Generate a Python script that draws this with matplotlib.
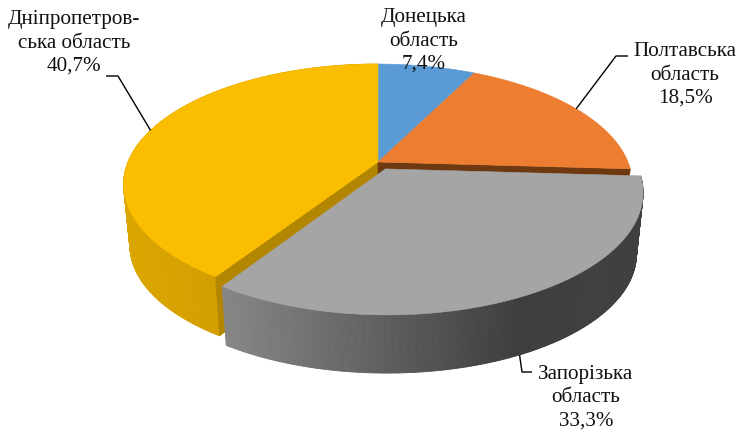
import numpy as np
import matplotlib
matplotlib.use("Agg")
import matplotlib.pyplot as plt
from matplotlib.collections import PolyCollection

names = ["Донецька\nобласть", "Полтавська\nобласть", "Запорізька\nобласть", "Дніпропетров-\nська область"]
values = [7.4, 18.5, 33.3, 40.7]
value_labels = ["7,4%", "18,5%", "33,3%", "40,7%"]
top_colors = ["#5b9bd5", "#ed7d31", "#a5a5a5", "#fbbd00"]
inner_colors = [None, "#6e3910", "#555555", "#b28600"]
explode = [0.0, 0.0, 0.066, 0.0]

# projection of the pie plane to pixels (perspective view)
CX, CY, BX, AY, K = 378.0, 163.0, 250.0, 116.1, 0.185
SHRINK, DROP = 0.975, 62.0

plt.rcParams["font.family"] = ["Liberation Serif", "DejaVu Serif"]
fig = plt.figure(figsize=(7.40, 4.31), dpi=100)
ax = fig.add_axes([0, 0, 1, 1])
ax.set_xlim(0, 740)
ax.set_ylim(431, 0)
ax.axis("off")

def proj(u, v, bottom=False):
    w = 1 + K * v
    x = CX + BX * u / w
    y = CY - AY * v / w
    if bottom:
        x = CX + (x - CX) * SHRINK
        y = CY + (y - CY) * SHRINK + DROP
    return x, y

total = sum(values)
edges = np.concatenate([[0], np.cumsum(values)]) / total * 2 * np.pi

def rim(i, th, bottom=False):
    mid = (edges[i] + edges[i + 1]) / 2
    du, dv = explode[i] * np.sin(mid), explode[i] * np.cos(mid)
    return proj(np.sin(th) + du, np.cos(th) + dv, bottom)

def apex(i, bottom=False):
    mid = (edges[i] + edges[i + 1]) / 2
    return proj(explode[i] * np.sin(mid), explode[i] * np.cos(mid), bottom)

def quad(a, b, c, d):
    return [a, b, c, d]

def draw_rim(i, shade, z):
    ths = np.linspace(edges[i], edges[i + 1], 240)
    polys, cols = [], []
    for t0, t1 in zip(ths[:-1], ths[1:]):
        p = quad(rim(i, t0), rim(i, t1), rim(i, t1, True), rim(i, t0, True))
        polys.append(p)
        cols.append(shade(rim(i, (t0 + t1) / 2)[0]))
    ax.add_collection(PolyCollection(polys, facecolors=cols, edgecolors=cols, linewidths=0.6, zorder=z))

def gray_shade(x):
    g = np.interp(x, [225, 520, 640], [0x86, 0x3d, 0x40]) / 255
    return (g, g, g)

def yellow_shade(x):
    f = np.interp(x, [125, 220], [0.0, 1.0])
    return ((0xdc - 10 * f) / 255, (0xa6 - 8 * f) / 255, 0.0)

def draw_inner(i, th, z):
    poly = [apex(i), rim(i, th), rim(i, th, True), apex(i, True)]
    ax.fill(*zip(*poly), color=inner_colors[i], lw=0.4, zorder=z)

def draw_top(i, z):
    ths = np.linspace(edges[i], edges[i + 1], 200)
    pts = [apex(i)] + [rim(i, t) for t in ths]
    ax.fill(*zip(*pts), color=top_colors[i], lw=0.4, zorder=z)

# back-to-front: side walls, then tops, exploded slice last
draw_rim(3, yellow_shade, 1)
draw_inner(3, edges[3], 2)
draw_inner(1, edges[2], 2)
draw_top(0, 3)
draw_top(1, 3)
draw_top(3, 3)
draw_rim(2, gray_shade, 4)
draw_top(2, 5)

# leader lines end at the middle of each slice's arc
def mid_th(i):
    return (edges[i] + edges[i + 1]) / 2

leaders = {
    1: ([(628, 57), (616, 57)], rim(1, mid_th(1))),
    2: ([(532, 373), (522, 373)], rim(2, mid_th(2), True)),
    3: ([(106, 77), (118, 77)], rim(3, mid_th(3))),
}
for i, (elbow, end) in leaders.items():
    xs, ys = zip(*(elbow + [end]))
    ax.plot(xs, ys, color="black", lw=1.0, zorder=6, solid_capstyle="butt")

label_pos = [(424, 41), (685, 75), (586, 398), (74, 43)]
for n, v, (x, y) in zip(names, value_labels, label_pos):
    ax.text(x, y, n + "\n" + v, ha="center", va="center", fontsize=15.2,
            linespacing=1.3, color="#111111", zorder=7)

fig.savefig("out.png", dpi=100, facecolor="white")
